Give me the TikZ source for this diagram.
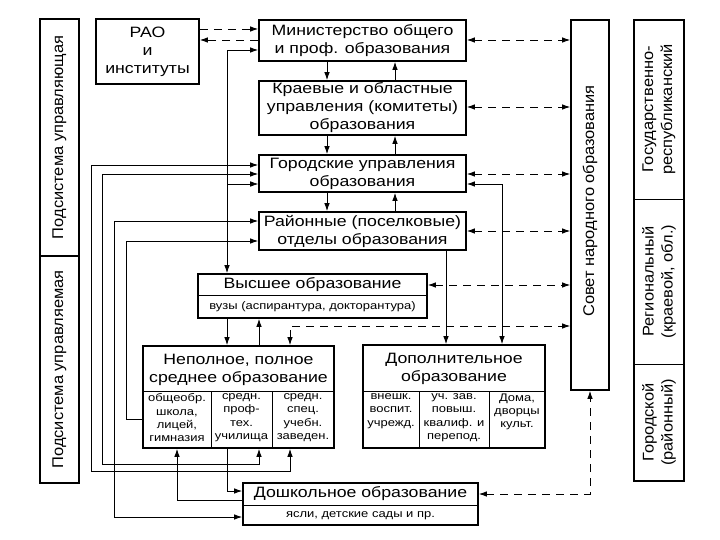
\documentclass[tikz,border=0pt]{standalone}
\usepackage{fontspec}
\setmainfont{Liberation Sans}
\newfontfamily\hf[FakeStretch=1.18]{Liberation Sans}
\newfontfamily\vf[FakeStretch=1.06]{Liberation Sans}
\usetikzlibrary{arrows.meta}
\begin{document}
\begin{tikzpicture}[x=1pt,y=-1pt,
  box/.style={draw, line width=1.6pt, inner sep=0pt, align=center, font=\hf\fontsize{15}{18}\selectfont},
  lbl/.style={font=\hf\fontsize{15}{18}\selectfont, align=center, inner sep=0pt},
  sm/.style={font=\hf\fontsize{11}{13.3}\selectfont, align=center, inner sep=0pt},
  vt/.style={font=\vf\fontsize{15.5}{19}\selectfont, align=center, rotate=90, inner sep=0pt},
  divl/.style={line width=0.8pt},
  ln/.style={line width=0.9pt},
  tip/.tip={Latex[length=8pt,width=5.5pt]},
  arr/.style={ln, -tip},
  barr/.style={ln, tip-tip},
  darr/.style={ln, -tip, dash pattern=on 8pt off 6pt},
  dbarr/.style={ln, tip-tip, dash pattern=on 8pt off 6pt}
]
\useasboundingbox (0,0) rectangle (720,540);
\fill[white] (0,0) rectangle (720,540);

% column / row coordinates
\coordinate (X91) at (91,0);   \coordinate (X102) at (102,0);
\coordinate (X114) at (114,0); \coordinate (X126) at (126,0);
\coordinate (X177) at (177,0); \coordinate (X227) at (227,0);
\coordinate (X259) at (259,0); \coordinate (X290) at (290,0);
\coordinate (X327) at (327,0); \coordinate (X395) at (395,0);
\coordinate (X446) at (446,0); \coordinate (X502) at (502,0);
\coordinate (Y29) at (0,29);   \coordinate (Y40) at (0,40);
\coordinate (Y50) at (0,50);   \coordinate (Y107) at (0,107);
\coordinate (Y165) at (0,165); \coordinate (Y174) at (0,174);
\coordinate (Y184) at (0,184); \coordinate (Y221) at (0,221);
\coordinate (Y231) at (0,231); \coordinate (Y241) at (0,241);
\coordinate (Y285) at (0,285); \coordinate (Y326) at (0,326);
\coordinate (Y419) at (0,419); \coordinate (Y464) at (0,464);
\coordinate (Y471) at (0,471); \coordinate (Y491) at (0,491);
\coordinate (Y494) at (0,494); \coordinate (Y500) at (0,500);
\coordinate (Y517) at (0,517);

% side columns
\node[box, minimum width=39pt, minimum height=237pt] (lup) at (59.5,137.5) {};
\node[box, minimum width=39pt, minimum height=227pt] (llo) at (59.5,369.5) {};
\node[vt] (lupt) at (lup.center) {Подсистема управляющая};
\node[vt] (llot) at (llo.center) {Подсистема управляемая};

\node[box, minimum width=50pt, minimum height=461pt] (rc) at (659,250.5) {};
\draw[divl] (634,199) -- (684,199);
\draw[divl] (634,364) -- (684,364);
\node[vt] (rc1) at (659,109.5) {Государственно-\\республиканский};
\node[vt] (rc2) at (659,281.5) {Региональный\\(краевой, обл.)};
\node[vt] (rc3) at (659,422.5) {Городской\\(районный)};

\node[box, minimum width=38pt, minimum height=370pt] (sov) at (590,205) {};
\node[vt] (sovt) at (590,201) {Совет народного образования};

% main boxes
\node[box, minimum width=103pt, minimum height=65pt] (rao) at (147.5,51.5) {РАО\\и\\институты};
\node[box, minimum width=207pt, minimum height=41pt] (min) at (362.5,40.5) {Министерство общего\\и проф. образования};
\node[box, minimum width=207pt, minimum height=54pt] (kr) at (362.5,108) {Краевые и областные\\управления (комитеты)\\образования};
\node[box, minimum width=207pt, minimum height=37pt] (gor) at (362.5,173.5) {Городские управления\\образования};
\node[box, minimum width=207pt, minimum height=38pt] (ray) at (362.5,231) {Районные (поселковые)\\отделы образования};

\node[box, minimum width=229pt, minimum height=44pt] (vys) at (312.5,296) {};
\draw[divl] (198,295) -- (427,295);
\node[lbl] (vyst) at (312.5,285) {Высшее образование};
\node[sm] (vyss) at (312.5,306.5) {вузы (аспирантура, докторантура)};

\node[box, minimum width=191pt, minimum height=102pt] (nep) at (238.5,397) {};
\draw[divl] (143,391) -- (334,391);
\draw[divl] (211,391) -- (211,448);
\draw[divl] (272,391) -- (272,448);
\node[lbl] (nept) at (238.5,369.5) {Неполное, полное\\среднее образование};
\node[sm, anchor=north] (nep1) at (177,393.5) {общеобр.\\школа,\\лицей,\\гимназия};
\node[sm, anchor=north] (nep2) at (241.5,393.5) {средн.\\проф-\\тех.\\училища};
\node[sm, anchor=north] (nep3) at (303,393.5) {средн.\\спец.\\учебн.\\заведен.};

\node[box, minimum width=182pt, minimum height=103pt] (dop) at (454,396.5) {};
\draw[divl] (363,391) -- (545,391);
\draw[divl] (419,391) -- (419,448);
\draw[divl] (489,391) -- (489,448);
\node[lbl] (dopt) at (454,369) {Дополнительное\\образование};
\node[sm, anchor=north] (dop1) at (391,393.5) {внешк.\\воспит.\\учрежд.};
\node[sm, anchor=north] (dop2) at (454,393.5) {уч. зав.\\повыш.\\квалиф. и\\перепод.};
\node[sm, anchor=north] (dop3) at (517,393.5) {Дома,\\дворцы\\культ.};

\node[box, minimum width=235pt, minimum height=42pt] (dosh) at (360.5,504) {};
\draw[divl] (243,505) -- (478,505);
\node[lbl] (dosht) at (360.5,494) {Дошкольное образование};
\node[sm] (doshs) at (360.5,515.5) {ясли, детские сады и пр.};

% dashed connectors
\draw[darr] (rao.east |- Y29) -- (min.west |- Y29);
\draw[darr] (min.west |- Y40) -- (rao.east |- Y40);
\draw[dbarr] (min.east |- Y40) -- (sov.west |- Y40);
\draw[dbarr] (kr.east |- Y107) -- (sov.west |- Y107);
\draw[dbarr] (gor.east |- Y174) -- (sov.west |- Y174);
\draw[dbarr] (ray.east |- Y231) -- (sov.west |- Y231);
\draw[dbarr] (vys.east |- Y285) -- (sov.west |- Y285);
\draw[dbarr] (nep.north -| X290) |- (sov.west |- Y326);
\draw[dbarr] (dosh.east |- Y494) -| (sov.south);

% vertical chain
\draw[arr] (min.south -| X327) -- (kr.north -| X327);
\draw[arr] (kr.north -| X395) -- (min.south -| X395);
\draw[arr] (kr.south -| X327) -- (gor.north -| X327);
\draw[arr] (gor.north -| X395) -- (kr.south -| X395);
\draw[arr] (gor.south -| X327) -- (ray.north -| X327);
\draw[arr] (ray.north -| X395) -- (gor.south -| X395);

% x=227 line
\draw[barr] (min.west |- Y50) -| (vys.north -| X227);
\draw[arr, line width=0.6pt] (X227 |- Y184) -- (gor.west |- Y184);

% feedback loops on the left
\draw[barr] (gor.west |- Y165) -| (X91 |- Y471) -| (nep.south -| X290);
\draw[barr] (gor.west |- Y174) -| (X102 |- Y464) -| (nep.south -| X259);
\draw[barr] (ray.west |- Y221) -| (X114 |- Y517) -- (dosh.west |- Y517);
\draw[arr] (nep.west |- Y419) -| (X126 |- Y241) -- (ray.west |- Y241);
\draw[arr] (dosh.west |- Y500) -| (nep.south -| X177);
\draw[arr] (nep.south -| X227) |- (dosh.west |- Y491);

% higher <-> secondary
\draw[arr] (vys.south -| X227) -- (nep.north -| X227);
\draw[arr] (nep.north -| X259) -- (vys.south -| X259);

% to additional education
\draw[arr] (ray.south -| X446) -- (dop.north -| X446);
\draw[barr] (gor.east |- Y184) -| (dop.north -| X502);
\end{tikzpicture}
\end{document}
